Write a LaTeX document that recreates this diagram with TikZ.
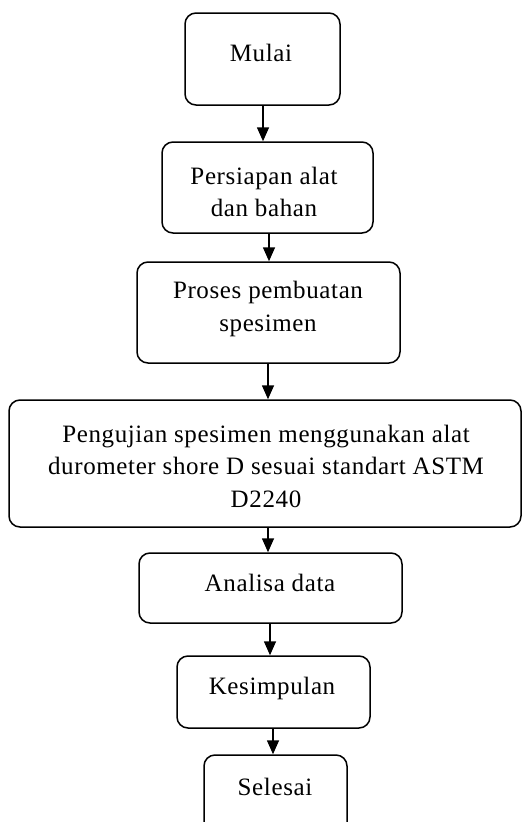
\documentclass[tikz,border=0pt]{standalone}
\usepackage{fontspec}
\setmainfont{Liberation Serif}[LetterSpace=2.5]
\usetikzlibrary{arrows.meta}
\begin{document}
\begin{tikzpicture}[x=1pt,y=-1pt,
  box/.style={draw,line width=1.5pt,rounded corners=11pt,inner sep=0pt},
  txt/.style={align=center,inner sep=0pt,font=\fontsize{25}{32.5}\selectfont},
  arr/.style={line width=1.6pt,-{Triangle[width=12pt,length=14pt]}}]
\useasboundingbox (0,0) rectangle (522,822);
\node[box,minimum width=155pt,minimum height=92pt] (b1) at (262.5,59) {};
\node[box,minimum width=211pt,minimum height=91pt] (b2) at (267.5,187.5) {};
\node[box,minimum width=263pt,minimum height=101pt] (b3) at (268.5,312.5) {};
\node[box,minimum width=512pt,minimum height=127pt] (b4) at (265,463.5) {};
\node[box,minimum width=263pt,minimum height=70pt] (b5) at (270.5,588) {};
\node[box,minimum width=193pt,minimum height=72pt] (b6) at (273.5,692) {};
\node[box,minimum width=143pt,minimum height=90pt] (b7) at (275.5,800) {};
\node[txt] (t1) at (261,53) {Mulai};
\node[txt] (t2) at (264,192) {Persiapan alat\\dan bahan};
\node[txt] (t3) at (268,309) {Proses pembuatan\\spesimen};
\node[txt] (t4) at (266,466) {Pengujian spesimen menggunakan alat\\durometer shore D sesuai standart ASTM\\D2240};
\node[txt] (t5) at (270,583) {Analisa data};
\node[txt] (t6) at (272,688) {Kesimpulan};
\node[txt] (t7) at (275,787) {Selesai};
\draw[arr] (b1.south -| 263,0) -- (b2.north -| 263,0);
\draw[arr] (b2.south -| 269,0) -- (b3.north -| 269,0);
\draw[arr] (b3.south -| 268,0) -- (b4.north -| 268,0);
\draw[arr] (b4.south -| 268,0) -- (b5.north -| 268,0);
\draw[arr] (b5.south -| 270,0) -- (b6.north -| 270,0);
\draw[arr] (b6.south -| 273,0) -- (b7.north -| 273,0);
\end{tikzpicture}
\end{document}
